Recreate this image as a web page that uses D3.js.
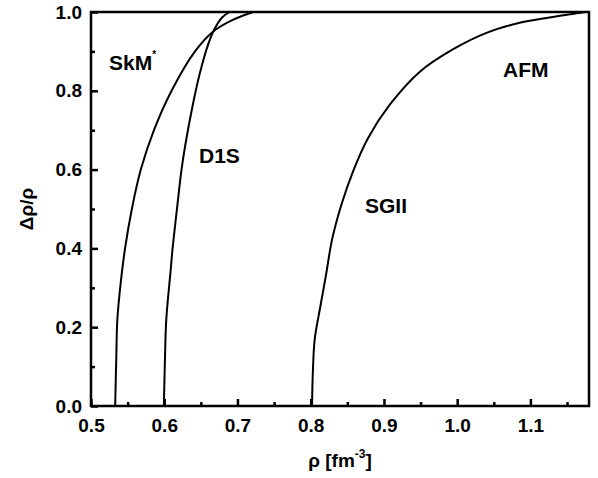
<!DOCTYPE html>
<html>
<head>
<meta charset="utf-8">
<script src="https://cdn.jsdelivr.net/npm/d3@7"></script>
<style>
  body { margin: 0; background: #fff; }
  svg text { font-family: "Liberation Sans", Arial, sans-serif; font-weight: bold; fill: #000; }
</style>
</head>
<body>
<svg id="chart" width="598" height="478"></svg>
<script>
// Curve data: density rho [fm^-3] and delta rho / rho
const skmRho = [0.533, 0.5345, 0.536, 0.541, 0.5465, 0.5558, 0.568, 0.586, 0.6100, 0.642, 0.6665, 0.6935, 0.7215];
const skmVal = [0.0, 0.12, 0.22, 0.32, 0.40, 0.50, 0.60, 0.70, 0.80, 0.90, 0.95, 0.98, 1.0];

const d1sRho = [0.5995, 0.601, 0.6028, 0.6088, 0.6112, 0.6172, 0.6236, 0.629, 0.638, 0.648, 0.660, 0.669, 0.679, 0.689];
const d1sVal = [0.0, 0.12, 0.22, 0.345, 0.396, 0.497, 0.60, 0.665, 0.755, 0.840, 0.918, 0.958, 0.986, 1.0];

const sgRho = [0.8018, 0.803, 0.8055, 0.8131, 0.8213, 0.829, 0.8418, 0.8577, 0.878, 0.9077, 0.9487, 0.994, 1.04, 1.08, 1.126, 1.157, 1.175];
const sgVal = [0.0, 0.09, 0.17, 0.252, 0.337, 0.421, 0.510, 0.595, 0.679, 0.764, 0.848, 0.905, 0.947, 0.970, 0.986, 0.995, 1.0];

const xTicks = [0.5, 0.6, 0.7, 0.8, 0.9, 1.0, 1.1];
const xMinor = [0.55, 0.65, 0.75, 0.85, 0.95, 1.05, 1.15];
const yTicks = [0.0, 0.2, 0.4, 0.6, 0.8, 1.0];
const yMinor = [0.1, 0.3, 0.5, 0.7, 0.9];

const svg = d3.select("#chart");
const padL = 91, padR = 589, padT = 12, padB = 406;

const x = d3.scaleLinear().domain([0.5, 1.18]).range([padL, padR]);
const y = d3.scaleLinear().domain([0, 1]).range([padB, padT]);

const fmt = d3.format(".1f");

// axes with inward ticks
svg.append("g").attr("transform", `translate(0,${padB})`)
  .call(d3.axisBottom(x).tickValues(xTicks).tickFormat(fmt).tickSizeInner(-7).tickSizeOuter(0).tickPadding(13));
svg.append("g").attr("transform", `translate(0,${padB})`)
  .call(d3.axisBottom(x).tickValues(xMinor).tickFormat("").tickSizeInner(-4).tickSizeOuter(0));
svg.append("g").attr("transform", `translate(${padL},0)`)
  .call(d3.axisLeft(y).tickValues(yTicks).tickFormat(fmt).tickSizeInner(-7).tickSizeOuter(0).tickPadding(9));
svg.append("g").attr("transform", `translate(${padL},0)`)
  .call(d3.axisLeft(y).tickValues(yMinor).tickFormat("").tickSizeInner(-4).tickSizeOuter(0));

svg.selectAll(".domain").remove();
svg.selectAll(".tick line").attr("stroke", "#000").attr("stroke-width", 2.5);
svg.selectAll(".tick text").attr("font-size", 19);

// frame
svg.append("rect")
  .attr("x", padL).attr("y", padT)
  .attr("width", padR - padL).attr("height", padB - padT)
  .attr("fill", "none").attr("stroke", "#000").attr("stroke-width", 2.5);

// curves
const line = d3.line()
  .x(d => x(d[0]))
  .y(d => y(d[1]))
  .curve(d3.curveCatmullRom.alpha(0.5));

const series = [
  d3.zip(skmRho, skmVal),
  d3.zip(d1sRho, d1sVal),
  d3.zip(sgRho, sgVal)
];

svg.selectAll(".curve")
  .data(series)
  .join("path")
  .attr("class", "curve")
  .attr("fill", "none")
  .attr("stroke", "#000")
  .attr("stroke-width", 2)
  .attr("d", line);

// curve labels
const skm = svg.append("text").attr("x", 109).attr("y", 70).attr("font-size", 21);
skm.append("tspan").text("SkM");
skm.append("tspan").attr("font-size", 10).attr("dy", -12).text("*");

svg.append("text").attr("x", 199).attr("y", 163).attr("font-size", 21).text("D1S");
svg.append("text").attr("x", 365).attr("y", 213).attr("font-size", 21).text("SGII");
svg.append("text").attr("x", 503).attr("y", 77).attr("font-size", 21).text("AFM");

// axis titles
const xt = svg.append("text").attr("x", (padL + padR) / 2).attr("y", 467)
  .attr("text-anchor", "middle").attr("font-size", 19);
xt.append("tspan").text("ρ [fm");
xt.append("tspan").attr("font-size", 12).attr("dy", -9).text("-3");
xt.append("tspan").attr("dy", 9).text("]");

svg.append("text")
  .attr("transform", `translate(33,${(padT + padB) / 2}) rotate(-90)`)
  .attr("text-anchor", "middle").attr("font-size", 19)
  .text("Δρ/ρ");
</script>
</body>
</html>
